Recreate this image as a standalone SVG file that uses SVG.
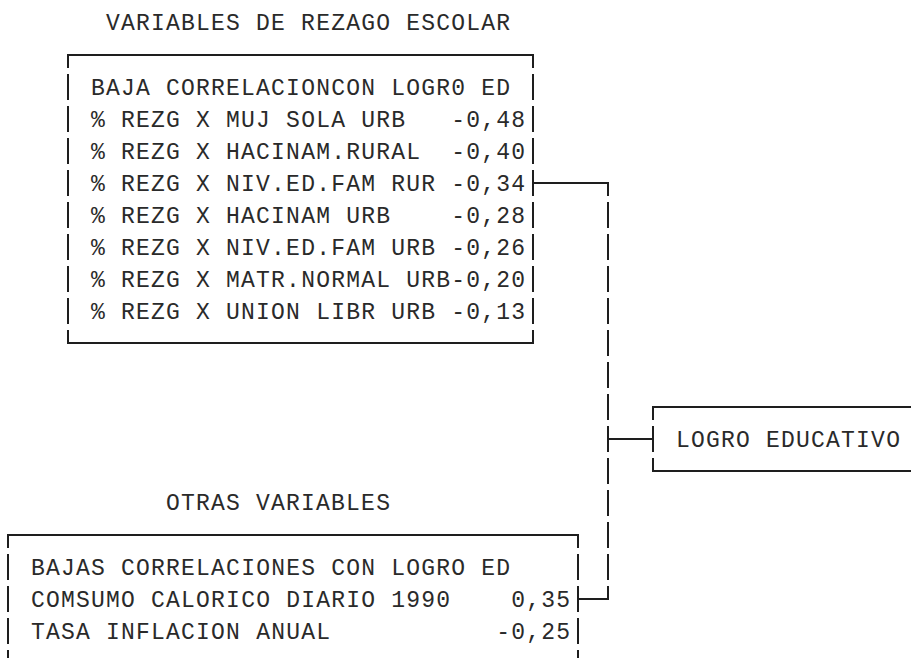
<svg xmlns="http://www.w3.org/2000/svg" width="911" height="658" viewBox="0 0 911 658">
<style>
.bg{fill:#ffffff}
.t{font-family:"Liberation Mono","DejaVu Sans Mono",monospace;font-size:23px;letter-spacing:1.2px;fill:#2a2a2a;white-space:pre}
.ln{fill:none;stroke:#1e1e1e;stroke-width:2;stroke-linecap:butt;stroke-linejoin:miter}
</style>
<rect class="bg" x="0" y="0" width="911" height="658"/>

<g id="title-rezago">
<text class="t" x="106.1" y="30" xml:space="preserve">VARIABLES DE REZAGO ESCOLAR</text>
</g>

<g id="box-rezago">
<path class="ln" d="M68,68 V55 H533 V68
M68,74 V100 M68,106 V132 M68,138 V164 M68,170 V196 M68,202 V228 M68,234 V260 M68,266 V292 M68,298 V324
M533,74 V100 M533,106 V132 M533,138 V164 M533,170 V196 M533,202 V228 M533,234 V260 M533,266 V292 M533,298 V324
M68,330 V343 H533 V330"/>
<text class="t" x="91.1" y="95" xml:space="preserve">BAJA CORRELACIONCON LOGR0 ED</text>
<text class="t" x="91.1" y="127" xml:space="preserve">% REZG X MUJ SOLA URB   -0,48</text>
<text class="t" x="91.1" y="159" xml:space="preserve">% REZG X HACINAM.RURAL  -0,40</text>
<text class="t" x="91.1" y="191" xml:space="preserve">% REZG X NIV.ED.FAM RUR -0,34</text>
<text class="t" x="91.1" y="223" xml:space="preserve">% REZG X HACINAM URB    -0,28</text>
<text class="t" x="91.1" y="255" xml:space="preserve">% REZG X NIV.ED.FAM URB -0,26</text>
<text class="t" x="91.1" y="287" xml:space="preserve">% REZG X MATR.NORMAL URB-0,20</text>
<text class="t" x="91.1" y="319" xml:space="preserve">% REZG X UNION LIBR URB -0,13</text>
</g>

<g id="title-otras">
<text class="t" x="166.1" y="510" xml:space="preserve">OTRAS VARIABLES</text>
</g>

<g id="box-otras">
<path class="ln" d="M8,548 V535 H578 V548
M8,554 V580 M8,586 V612 M8,618 V644 M8,650 V676
M578,554 V580 M578,586 V612 M578,618 V644 M578,650 V676"/>
<text class="t" x="31.1" y="575" xml:space="preserve">BAJAS CORRELACIONES CON LOGRO ED</text>
<text class="t" x="31.1" y="607" xml:space="preserve">COMSUMO CALORICO DIARIO 1990    0,35</text>
<text class="t" x="31.1" y="639" xml:space="preserve">TASA INFLACION ANUAL           -0,25</text>
</g>

<g id="box-logro">
<path class="ln" d="M925,407 H653 V420 M653,426 V452 M653,458 V471 H925"/>
<text class="t" x="676.1" y="447" xml:space="preserve">LOGRO EDUCATIVO</text>
</g>

<g id="connectors">
<path class="ln" d="M533,183 H608 V196
M608,202 V228 M608,234 V260 M608,266 V292 M608,298 V324 M608,330 V356 M608,362 V388 M608,394 V420
M608,426 V452 M608,458 V484 M608,490 V516 M608,522 V548 M608,554 V580
M608,439 H653
M608,586 V599 H578"/>
</g>
</svg>
